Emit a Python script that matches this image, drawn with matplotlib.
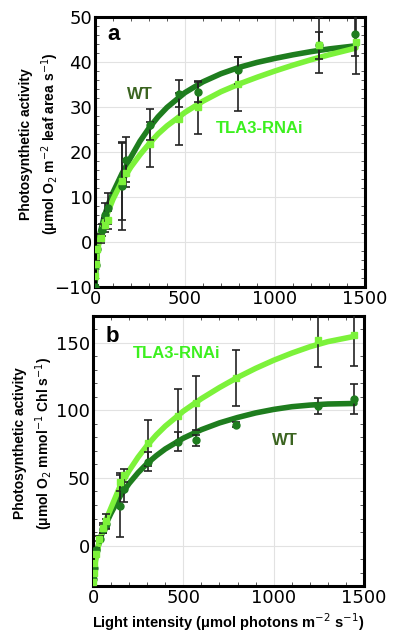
import matplotlib.pyplot as plt
from matplotlib.ticker import MultipleLocator

plt.rcParams['font.family'] = ['DejaVu Sans']
LABEL_FONT = ['Liberation Sans', 'DejaVu Sans']

DARK = "#1e7d1e"
LIGHT = "#7cf23a"
WT_TEXT = "#3b6420"
TLA_TEXT = "#3cf01e"

# ---- panel a: per leaf area ----
a_wt_x = [0, 5, 10, 37, 57, 70, 148, 172, 307, 468, 570, 793, 1246, 1446]
a_wt_y = [-10, -5, -1.5, 2.7, 6.1, 7.5, 12.4, 18.3, 26.1, 32.9, 33.4, 38.2, 43.7, 46.3]
a_wt_err = [0.5, 0.5, 0.5, 1.3, 2.5, 3.5, 9.8, 5, 3.4, 3, 2.2, 3, 3, 5]

a_tla_x = [0, 5, 10, 33, 57, 70, 148, 172, 307, 468, 570, 793, 1246, 1450]
a_tla_y = [-7.5, -4.8, -1.5, 0.8, 3.8, 4.9, 13.5, 15.3, 21.7, 27.3, 29.9, 35.1, 43.7, 44.4]
a_tla_err = [0.5, 0.5, 0.5, 1, 1.5, 2, 8.5, 3, 5, 5.8, 5.9, 6, 6.2, 7]

# fitted light-response curves
fit_x = [0, 5, 15, 30, 50, 75, 100, 150, 200, 250, 300, 350, 400, 500, 600, 700,
         800, 900, 1000, 1100, 1200, 1300, 1450]
a_wt_fit = [-10, -6, -1.5, 2.2, 5.5, 8.5, 11, 15.2, 18.9, 22.4, 25.3, 27.8, 29.9,
            33.2, 35.6, 37.4, 38.8, 39.9, 40.8, 41.6, 42.3, 42.9, 43.6]
a_tla_fit = [-7.5, -5, -1.5, 1.5, 4.2, 7, 9.5, 13.5, 16.7, 19.4, 21.8, 24, 25.8,
             28.8, 31.3, 33.4, 35.1, 36.6, 38, 39.3, 40.5, 41.6, 43.1]

# ---- panel b: per chlorophyll ----
b_wt_x = [0, 5, 15, 37, 57, 70, 148, 172, 307, 468, 570, 793, 1246, 1446]
b_wt_y = [-25, -17, -3, 5, 12, 16, 29, 42, 62, 77, 78, 89.5, 103.5, 108.5]
b_wt_err = [1, 1, 1, 2, 3, 4, 23, 10, 7, 7, 4, 2, 6, 11]

b_tla_x = [0, 3, 8, 15, 33, 57, 70, 148, 172, 307, 468, 570, 793, 1246, 1446]
b_tla_y = [-27, -20, -13, -6, 5, 13, 18, 47, 52, 75.6, 95.8, 105.7, 124, 152, 155.7]
b_tla_err = [1, 1, 1, 1, 2, 4, 5, 7, 5, 17, 20, 20, 21, 20, 23]

b_wt_fit = [-25, -18, -9, 0, 9, 17, 24, 36.5, 46, 54, 60.8, 66.5, 71.5, 79.5, 85.8,
            90.8, 94.8, 98.2, 100.8, 102.8, 104, 104.8, 105.2]
b_tla_fit = [-27, -20, -10, 0, 10, 20, 28, 44, 55.5, 65.5, 74.2, 81.8, 88.4, 99.5,
             108.8, 117, 124.5, 131.2, 137.2, 142.5, 147.2, 151, 155]


def _panel(ax, wt, tla, wt_fit, tla_fit, ylim, ymajor, yminor):
    ax.plot(fit_x, wt_fit, color=DARK, lw=4, solid_capstyle="round", zorder=2)
    ax.plot(fit_x, tla_fit, color=LIGHT, lw=4, solid_capstyle="round", zorder=2)
    for (x, y, e), col, mk in ((wt, DARK, "o"), (tla, LIGHT, "s")):
        ax.errorbar(x, y, yerr=e, fmt="none", ecolor="#222222", elinewidth=1.2,
                    capsize=3, capthick=1.2, zorder=3)
        ax.plot(x, y, mk, color=col, ms=5, zorder=4)
    ax.set_xlim(0, 1500)
    ax.set_ylim(*ylim)
    ax.xaxis.set_major_locator(MultipleLocator(500))
    ax.xaxis.set_minor_locator(MultipleLocator(100))
    ax.yaxis.set_major_locator(MultipleLocator(ymajor))
    ax.yaxis.set_minor_locator(MultipleLocator(yminor))
    ax.grid(True, which="major", color="#e2e2e2", lw=0.8, zorder=0)
    ax.tick_params(which="both", direction="in", top=True, right=True,
                   labelsize=13, color="#555555")
    ax.tick_params(which="major", length=0, pad=2)
    ax.tick_params(which="minor", length=3, width=0.7)
    for s in ax.spines.values():
        s.set_linewidth(2.2)


fig = plt.figure(figsize=(3.97, 6.34), dpi=100)
ax_a = fig.add_axes([0.2393, 0.5473, 0.680, 0.4259])
ax_b = fig.add_axes([0.2343, 0.0757, 0.6826, 0.4259])

_panel(ax_a, (a_wt_x, a_wt_y, a_wt_err), (a_tla_x, a_tla_y, a_tla_err),
       a_wt_fit, a_tla_fit, (-10, 50), 10, 2)
_panel(ax_b, (b_wt_x, b_wt_y, b_wt_err), (b_tla_x, b_tla_y, b_tla_err),
       b_wt_fit, b_tla_fit, (-30, 170), 50, 10)
ax_b.set_yticks([0, 50, 100, 150])

lab = dict(fontsize=12, fontweight="bold", ha="center", va="center", family=LABEL_FONT)
ax_a.text(70, 46, "a", fontsize=16, fontweight="bold", va="center", family=LABEL_FONT)
ax_a.text(250, 32.7, "WT", color=WT_TEXT, **lab)
ax_a.text(917, 25.3, "TLA3-RNAi", color=TLA_TEXT, **lab)

ax_b.text(70, 155, "b", fontsize=16, fontweight="bold", va="center", family=LABEL_FONT)
ax_b.text(465, 142, "TLA3-RNAi", color=TLA_TEXT, **lab)
ax_b.text(1063, 78, "WT", color=WT_TEXT, **lab)

ylab = dict(fontsize=10, fontweight="bold", linespacing=1.4, family=LABEL_FONT)
ax_a.set_ylabel("Photosynthetic activity\n(\u03bcmol O$_2$ m$^{-2}$ leaf area s$^{-1}$)", **ylab)
ax_a.yaxis.set_label_coords(-0.125, 0.53)
ax_b.set_ylabel("Photosynthetic activity\n(\u03bcmol O$_2$ mmol$^{-1}$ Chl s$^{-1}$)", **ylab)
ax_b.yaxis.set_label_coords(-0.14, 0.53)
ax_b.set_xlabel("Light intensity (\u03bcmol photons m$^{-2}$ s$^{-1}$)",
                fontsize=10.5, fontweight="bold", labelpad=3, family=LABEL_FONT)

fig.savefig("out.png", dpi=100)
